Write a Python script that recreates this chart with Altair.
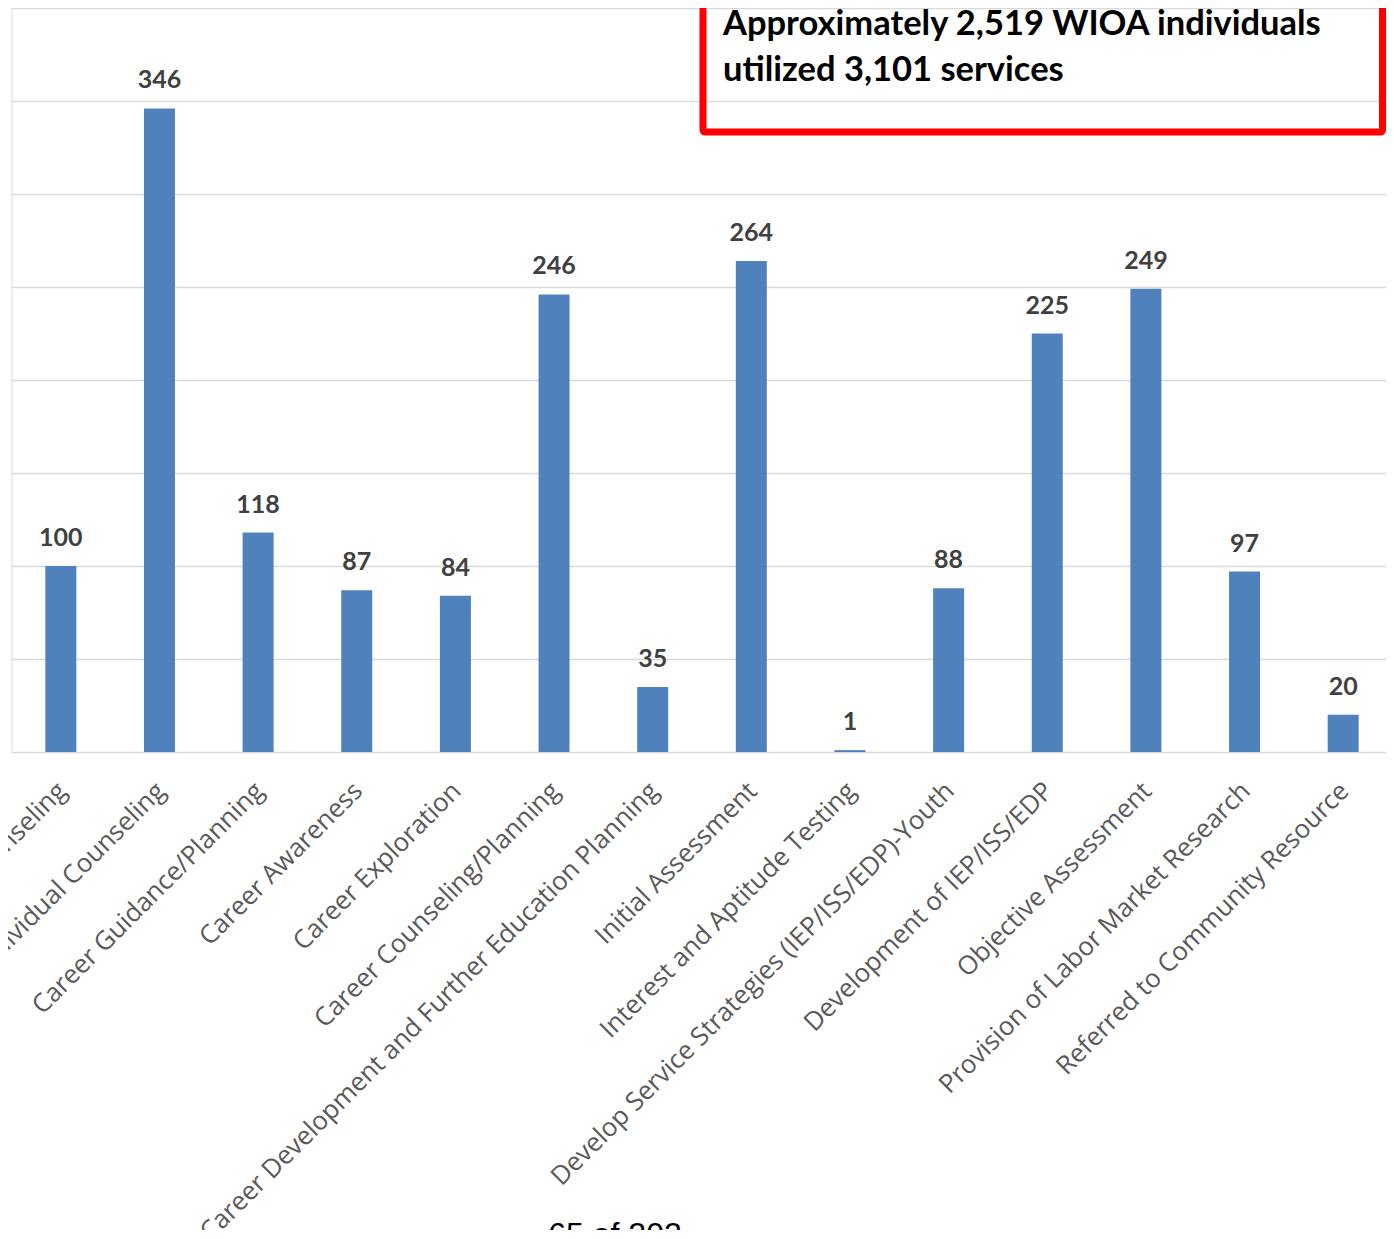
import altair as alt
import pandas as pd

categories = [
    "Group Counseling",
    "Individual Counseling",
    "Career Guidance/Planning",
    "Career Awareness",
    "Career Exploration",
    "Career Counseling/Planning",
    "Career Development and Further Education Planning",
    "Initial Assessment",
    "Interest and Aptitude Testing",
    "Develop Service Strategies (IEP/ISS/EDP)-Youth",
    "Development of IEP/ISS/EDP",
    "Objective Assessment",
    "Provision of Labor Market Research",
    "Referred to Community Resource",
]
values = [100, 346, 118, 87, 84, 246, 35, 264, 1, 88, 225, 249, 97, 20]
grid_values = [0, 50, 100, 150, 200, 250, 300, 350, 400]
note_line1 = "Approximately 2,519 WIOA individuals"
note_line2 = "utilized 3,101 services"
page_label = "65 of 202"

df = pd.DataFrame({"category": categories, "value": values})
one = pd.DataFrame({"k": [0]})

x_enc = alt.X(
    "category:N",
    sort=categories,
    title=None,
    scale=alt.Scale(paddingInner=0.686, paddingOuter=0.343, range=[0, 1381]),
    axis=alt.Axis(
        labelAngle=-45,
        labelAlign="right",
        labelBaseline="top",
        labelPadding=26,
        labelOffset=-7,
        labelFont="Open Sans",
        labelFontSize=25.8,
        labelColor="#595959",
        labelLimit=2000,
        labelOverlap=False,
        labelFlush=False,
        ticks=False,
        domain=False,
        grid=False,
    ),
)
y_enc = alt.Y(
    "value:Q",
    title=None,
    scale=alt.Scale(domain=[0, 400], nice=False),
    axis=alt.Axis(
        values=grid_values,
        labels=False,
        ticks=False,
        domain=False,
        grid=True,
        gridColor="#D9D9D9",
        gridWidth=1.5,
    ),
)

bars = alt.Chart(df).mark_bar(color="#4F81BD").encode(x=x_enc, y=y_enc)

value_labels = alt.Chart(df).mark_text(
    font="Lato", fontWeight="bold", fontSize=25, color="#404040",
    baseline="alphabetic", dy=-20,
).encode(
    x=alt.X("category:N", sort=categories),
    y=alt.Y("value:Q"),
    text=alt.Text("value:Q"),
)

box = alt.Chart(one).mark_rect(
    fillOpacity=0, stroke="#FF0000", strokeWidth=7, cornerRadius=2
).encode(
    x=alt.value(691.5), x2=alt.value(1371), y=alt.value(-40), y2=alt.value(124)
)

note1 = alt.Chart(one).mark_text(
    text=note_line1, font="Lato", fontWeight="bold", fontSize=34.5, color="#000000",
    align="left", baseline="alphabetic",
).encode(x=alt.value(711.5), y=alt.value(27))

note2 = alt.Chart(one).mark_text(
    text=note_line2, font="Lato", fontWeight="bold", fontSize=34.5, color="#000000",
    align="left", baseline="alphabetic",
).encode(x=alt.value(711.5), y=alt.value(73))

page = alt.Chart(one).mark_text(
    text=page_label, font="Liberation Sans", fontSize=32, color="#000000",
    align="center", baseline="alphabetic",
).encode(x=alt.value(603.5), y=alt.value(1237))

chart = alt.layer(bars, value_labels, box, note1, note2, page).properties(
    width=1374.5,
    height=744,
    autosize=alt.AutoSizeParams(type="none"),
    padding={"left": 3.5, "top": 0, "right": 0, "bottom": 478},
).configure_view(stroke=None).configure(background="#FFFFFF")

chart.save("out.html", embed_options={"renderer": "svg", "actions": False})
